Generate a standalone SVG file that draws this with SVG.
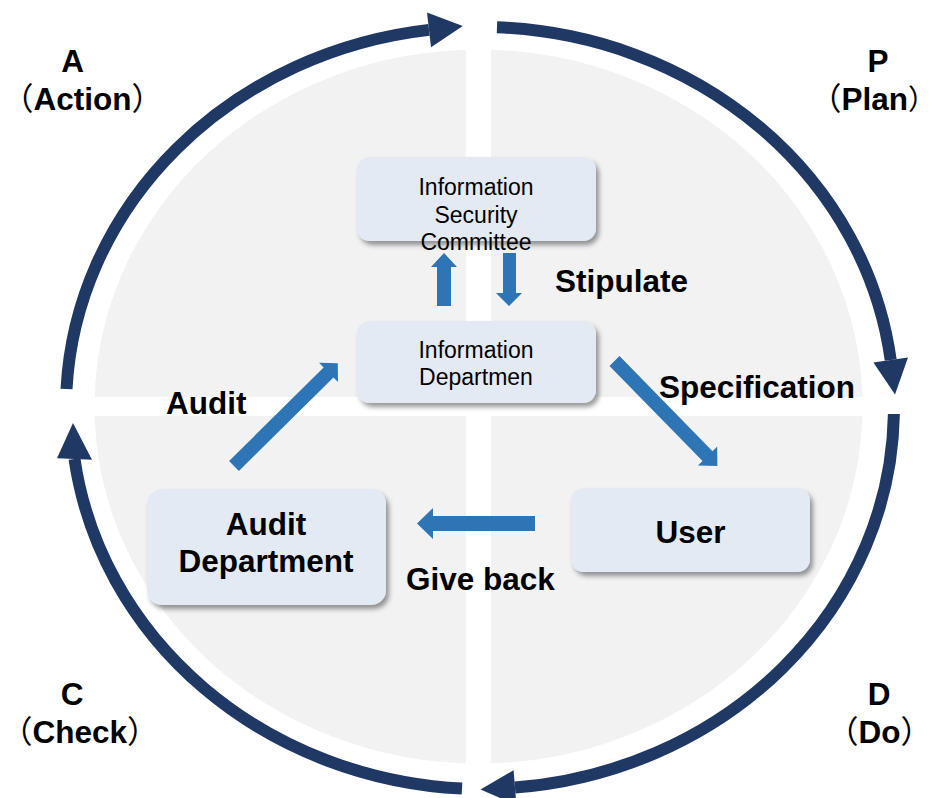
<svg xmlns="http://www.w3.org/2000/svg" width="935" height="798" viewBox="0 0 935 798">
  <defs>
    <filter id="shadow" x="-10%" y="-15%" width="125%" height="140%">
      <feDropShadow dx="3" dy="4" stdDeviation="2.5" flood-color="#000" flood-opacity="0.4"/>
    </filter>
    <style>
      .ring { fill: none; stroke: #1F3864; stroke-width: 12; }
      .ringhead { fill: #1F3864; }
      .box { fill: #E4EAF3; filter: url(#shadow); }
      .flow { fill: #2E75B6; }
      .t-reg { font-family: "Liberation Sans", Arial, sans-serif; font-size: 23px; fill: #000; text-anchor: middle; }
      .t-bold { font-family: "Liberation Sans", Arial, sans-serif; font-size: 31.5px; font-weight: bold; fill: #000; }
      .mid { text-anchor: middle; }
      .paren { font-family: "Noto Sans CJK SC", sans-serif; font-weight: 400; }
    </style>
  </defs>

  <rect width="935" height="798" fill="#FFFFFF"/>

  <!-- grey disk split into four quadrants -->
  <g id="background">
    <ellipse cx="478.5" cy="406.5" rx="384" ry="357" fill="#F2F2F2"/>
    <rect x="466" y="40" width="25" height="735" fill="#FFFFFF"/>
    <rect x="85" y="397" width="788" height="19" fill="#FFFFFF"/>
  </g>

  <!-- PDCA cycle ring -->
  <g id="cycle">
    <path class="ring" d="M 66.5 389 A 414 381 0 0 1 429 29.9"/>
    <polygon class="ringhead" points="431,47.3 462.8,26 427,12.5"/>
    <path class="ring" d="M 497 27.3 A 414 381 0 0 1 890.7 360"/>
    <polygon class="ringhead" points="873.4,362.4 895,394.5 908,357.6"/>
    <path class="ring" d="M 893.9 414 A 414 381 0 0 1 515 787.6"/>
    <polygon class="ringhead" points="513.6,770.2 480.5,789.5 516.4,805"/>
    <path class="ring" d="M 462 788.6 A 414 381 0 0 1 74.5 459"/>
    <polygon class="ringhead" points="57,458.3 73,423 92,459.7"/>
  </g>

  <!-- phase labels -->
  <g id="phase-labels" class="t-bold">
    <text x="72.5" y="72" class="mid">A</text>
    <text x="2" y="110"><tspan class="paren">（</tspan>Action<tspan class="paren">）</tspan></text>
    <text x="878" y="72" class="mid">P</text>
    <text x="810" y="110"><tspan class="paren">（</tspan>Plan<tspan class="paren" font-size="28">）</tspan></text>
    <text x="72" y="705" class="mid">C</text>
    <text x="1" y="743"><tspan class="paren">（</tspan>Check<tspan class="paren">）</tspan></text>
    <text x="879" y="705" class="mid">D</text>
    <text x="827" y="743"><tspan class="paren">（</tspan>Do<tspan class="paren">）</tspan></text>
  </g>

  <!-- flow arrows between the bodies -->
  <g id="connectors">
    <polygon class="flow" points="437,306 437,267 431,267 444,253 457,267 451,267 451,306"/>
    <polygon class="flow" points="503,253 516,253 516,293 522,293 509,306 496,293 503,293"/>
    <polygon class="flow" transform="translate(614.5,361) rotate(45.6)" points="0,-7 133,-7 133,-13.5 147,0 133,13.5 133,7 0,7"/>
    <polygon class="flow" points="535,516 433,516 433,508 417,523.5 433,539 433,531 535,531"/>
    <polygon class="flow" transform="translate(234,466) rotate(-44.7)" points="0,-7 133,-7 133,-13.5 146,0 133,13.5 133,7 0,7"/>
  </g>

  <!-- connector labels -->
  <g id="connector-labels" class="t-bold">
    <text x="555" y="292">Stipulate</text>
    <text x="659" y="398">Specification</text>
    <text x="166" y="414">Audit</text>
    <text x="406" y="590">Give back</text>
  </g>

  <g id="node-committee">
    <rect class="box" x="357" y="157" width="239" height="84" rx="13"/>
    <text class="t-reg" x="476" y="195">Information</text>
    <text class="t-reg" x="476" y="222.5">Security</text>
    <text class="t-reg" x="476" y="250">Committee</text>
  </g>

  <g id="node-info-dept">
    <rect class="box" x="357" y="321" width="239" height="82" rx="13"/>
    <text class="t-reg" x="476" y="358">Information</text>
    <text class="t-reg" x="476" y="385">Departmen</text>
  </g>

  <g id="node-audit-dept">
    <rect class="box" x="147" y="489" width="239" height="116" rx="15"/>
    <text class="t-bold mid" x="266" y="535">Audit</text>
    <text class="t-bold mid" x="266" y="572">Department</text>
  </g>

  <g id="node-user">
    <rect class="box" x="571" y="488" width="239" height="84" rx="13"/>
    <text class="t-bold mid" x="690.5" y="543">User</text>
  </g>
</svg>
